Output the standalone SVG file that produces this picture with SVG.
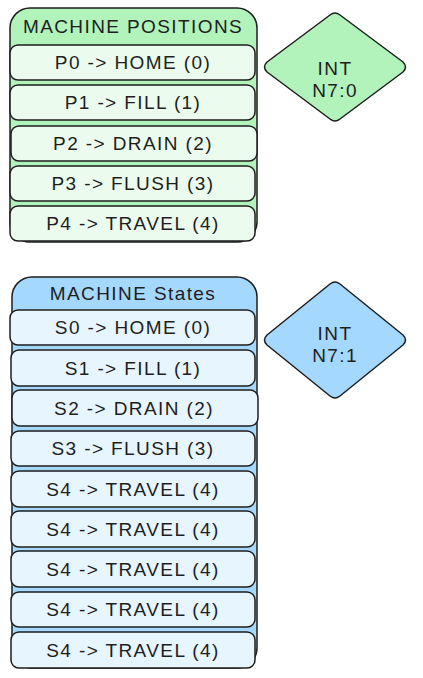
<svg xmlns="http://www.w3.org/2000/svg" width="423" height="678" viewBox="0 0 423 678">
<style>
.s{stroke:#1e1e1e;stroke-width:1.5;stroke-linejoin:round}
.gc{fill:#b2f2bb}.gr{fill:#ebfbee}
.bc{fill:#a5d8ff}.br{fill:#e7f5ff}
text{font-family:"Liberation Sans","DejaVu Sans",sans-serif;font-size:19px;letter-spacing:1.4px;fill:#1e1e1e;text-anchor:middle;dominant-baseline:central}
</style>
<rect width="423" height="678" fill="#ffffff"/>
<g id="positions">
<rect class="s gc" x="10" y="8" width="247" height="234" rx="20"/>
<text x="133" y="26">MACHINE POSITIONS</text>
</g>
<g id="p0"><rect class="s gr" x="10" y="45" width="245" height="35" rx="8"/><text x="133" y="62">P0 -&gt; HOME (0)</text></g>
<g id="p1"><rect class="s gr" x="10" y="85" width="245" height="35" rx="8"/><text x="133" y="102">P1 -&gt; FILL (1)</text></g>
<g id="p2"><rect class="s gr" x="11" y="126" width="246" height="35" rx="8"/><text x="133" y="143">P2 -&gt; DRAIN (2)</text></g>
<g id="p3"><rect class="s gr" x="10" y="166" width="245" height="35" rx="8"/><text x="133" y="183">P3 -&gt; FLUSH (3)</text></g>
<g id="p4"><rect class="s gr" x="10" y="206" width="245" height="35" rx="8"/><text x="133" y="223">P4 -&gt; TRAVEL (4)</text></g>
<g id="int0">
<path class="s gc" d="M330 15 Q335 11 340 15 L403 62 Q408 67 403 72 L340 119 Q335 123 330 119 L267 72 Q262 67 267 62 Z"/>
<text x="335" y="68">INT</text>
<text x="335" y="90">N7:0</text>
</g>
<g id="states">
<rect class="s bc" x="12" y="277" width="245" height="391" rx="20"/>
<text x="133" y="293">MACHINE States</text>
</g>
<g id="s0"><rect class="s br" x="10" y="310" width="245" height="35" rx="8"/><text x="133" y="327">S0 -&gt; HOME (0)</text></g>
<g id="s1"><rect class="s br" x="11" y="350" width="244" height="36" rx="8"/><text x="133" y="368">S1 -&gt; FILL (1)</text></g>
<g id="s2"><rect class="s br" x="12" y="390" width="246" height="36" rx="8"/><text x="134" y="408">S2 -&gt; DRAIN (2)</text></g>
<g id="s3"><rect class="s br" x="11" y="431" width="244" height="35" rx="8"/><text x="133" y="448">S3 -&gt; FLUSH (3)</text></g>
<g id="s4a"><rect class="s br" x="11" y="471" width="244" height="36" rx="8"/><text x="133" y="489">S4 -&gt; TRAVEL (4)</text></g>
<g id="s4b"><rect class="s br" x="11" y="511" width="244" height="36" rx="8"/><text x="133" y="529">S4 -&gt; TRAVEL (4)</text></g>
<g id="s4c"><rect class="s br" x="11" y="551" width="244" height="36" rx="8"/><text x="133" y="569">S4 -&gt; TRAVEL (4)</text></g>
<g id="s4d"><rect class="s br" x="11" y="592" width="244" height="35" rx="8"/><text x="133" y="609">S4 -&gt; TRAVEL (4)</text></g>
<g id="s4e"><rect class="s br" x="11" y="632" width="244" height="36" rx="8"/><text x="133" y="650">S4 -&gt; TRAVEL (4)</text></g>
<g id="int1">
<path class="s bc" d="M330 284 Q335 280 340 284 L403 335 Q408 340 403 345 L340 396 Q335 400 330 396 L267 345 Q262 340 267 335 Z"/>
<text x="335" y="333">INT</text>
<text x="335" y="355">N7:1</text>
</g>
<g id="connectors"></g>
</svg>
